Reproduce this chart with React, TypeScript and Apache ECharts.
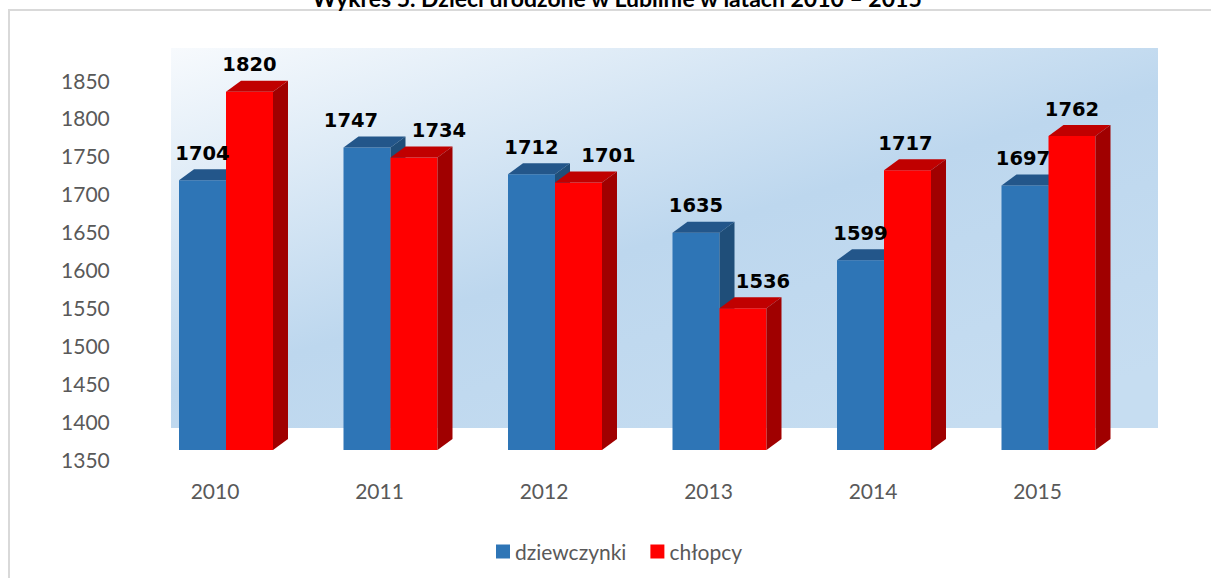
import React, { useEffect, useRef } from "react";
import * as echarts from "echarts";

const categories = ["2010", "2011", "2012", "2013", "2014", "2015"];
const girls = [1704, 1747, 1712, 1635, 1599, 1697];
const boys = [1820, 1734, 1701, 1536, 1717, 1762];
const Y_MIN = 1350;
const Y_MAX = 1850;
const Y_STEP = 50;

// horizontal nudges of the value labels (px), as placed in the original chart
const girlsLabelShift = [0, -16, 0, 0, 0, -2];
const boysLabelShift = [0, 25, 30, 20, -2, 0];

const FONT = "Lato, 'Open Sans', sans-serif";
const LABEL_FONT = "'DejaVu Sans', Lato, sans-serif";
const DX = 15;
const DY = -11;

function makeRender(side: number, shifts: number[], front: string, topC: string, sideC: string) {
  return (params: any, api: any) => {
    const idx = api.value(0);
    const val = api.value(1);
    const top = api.coord([idx, val]);
    const bot = api.coord([idx, Y_MIN]);
    const band = api.size([1, 0])[0];
    const w = band * 0.2857;
    const x0 = side === 0 ? top[0] - w : top[0];
    const x1 = x0 + w;
    const yT = top[1];
    const yB = bot[1];
    const shift = shifts[params.dataIndex] || 0;
    return {
      type: "group",
      children: [
        { type: "rect", shape: { x: x0, y: yT, width: w, height: yB - yT }, style: { fill: front } },
        {
          type: "polygon",
          shape: { points: [[x0, yT], [x0 + DX, yT + DY], [x1 + DX, yT + DY], [x1, yT]] },
          style: { fill: topC },
        },
        {
          type: "polygon",
          shape: { points: [[x1, yT], [x1 + DX, yT + DY], [x1 + DX, yB + DY], [x1, yB]] },
          style: { fill: sideC },
        },
        {
          type: "text",
          z2: 100,
          style: {
            text: String(val),
            x: (x0 + x1) / 2 + shift,
            y: yT - 27,
            align: "center",
            verticalAlign: "middle",
            fontSize: 19.5,
            fontWeight: "bold",
            fontFamily: LABEL_FONT,
            fill: "#000000",
          },
        },
      ],
    };
  };
}

export default function App() {
  const ref = useRef<HTMLDivElement>(null);
  useEffect(() => {
    if (!ref.current) return;
    const chart = echarts.init(ref.current, null, { renderer: "svg" });
    const bandW = 164.5;
    const gridW = bandW * categories.length;
    chart.setOption({
      animation: false,
      backgroundColor: "#ffffff",
      graphic: [
        {
          type: "rect",
          z: -10,
          shape: { x: 9, y: 10, width: 1260, height: 620 },
          style: { fill: "none", stroke: "#D9D9D9", lineWidth: 2 },
        },
        {
          type: "rect",
          z: -9,
          shape: { x: 171, y: 48, width: 987, height: 380 },
          style: {
            fill: new echarts.graphic.LinearGradient(0, 0, 0.8, 1, [
              { offset: 0, color: "#F7FAFD" },
              { offset: 0.55, color: "#BDD7EE" },
              { offset: 1, color: "#C6DDF1" },
            ]),
          },
        },
        {
          type: "text",
          z: 10,
          style: {
            text: "Wykres 5. Dzieci urodzone w Lublinie w latach 2010 – 2015",
            x: 617,
            y: 9,
            align: "center",
            verticalAlign: "bottom",
            fontSize: 23,
            fontWeight: "bold",
            fontFamily: FONT,
            fill: "#000000",
          },
        },
      ],
      grid: [
        { left: 143.75, width: gridW, top: 69, height: 381, containLabel: false },
        { left: 132.75, width: gridW, top: 80, height: 379, containLabel: false },
      ],
      xAxis: [
        { type: "category", data: categories, gridIndex: 0, show: false },
        {
          type: "category",
          data: categories,
          gridIndex: 1,
          axisLine: { show: false },
          axisTick: { show: false },
          axisLabel: { color: "#595959", fontSize: 21, fontFamily: FONT, margin: 21 },
        },
      ],
      yAxis: [
        { type: "value", min: Y_MIN, max: Y_MAX, interval: Y_STEP, gridIndex: 0, show: false },
        {
          type: "value",
          min: Y_MIN,
          max: Y_MAX,
          interval: Y_STEP,
          gridIndex: 1,
          axisLine: { show: false },
          axisTick: { show: false },
          splitLine: { show: false },
          axisLabel: {
            color: "#595959",
            fontSize: 21,
            fontFamily: FONT,
            margin: 23,
            formatter: (v: number) => String(v),
          },
        },
      ],
      legend: {
        left: 491,
        top: 536,
        itemWidth: 14,
        itemHeight: 14,
        itemGap: 24,
        icon: "rect",
        textStyle: { color: "#595959", fontSize: 21, fontFamily: FONT },
        data: [
          { name: "dziewczynki", itemStyle: { color: "#2E75B6" } },
          { name: "chłopcy", itemStyle: { color: "#FF0000" } },
        ],
      },
      series: [
        {
          name: "dziewczynki",
          type: "custom",
          xAxisIndex: 0,
          yAxisIndex: 0,
          z: 2,
          itemStyle: { color: "#2E75B6" },
          renderItem: makeRender(0, girlsLabelShift, "#2E75B6", "#23568A", "#1F4E79"),
          data: girls.map((v, i) => [i, v]),
          encode: { x: 0, y: 1 },
        },
        {
          name: "chłopcy",
          type: "custom",
          xAxisIndex: 0,
          yAxisIndex: 0,
          z: 2,
          itemStyle: { color: "#FF0000" },
          renderItem: makeRender(1, boysLabelShift, "#FF0000", "#C00000", "#A00000"),
          data: boys.map((v, i) => [i, v]),
          encode: { x: 0, y: 1 },
        },
      ],
    });
    return () => chart.dispose();
  }, []);
  return (
    <div
      ref={ref}
      style={{ position: "fixed", left: 0, top: 0, width: 1211, height: 578 }}
    />
  );
}
